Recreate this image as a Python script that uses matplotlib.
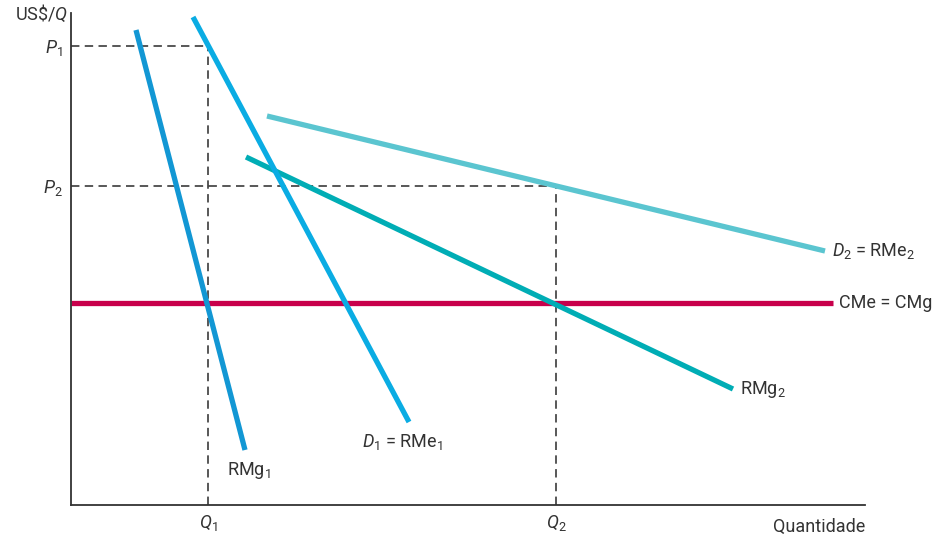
import numpy as np
import matplotlib.pyplot as plt

plt.rcParams['font.family'] = ['Roboto', 'DejaVu Sans']
plt.rcParams['mathtext.fontset'] = 'custom'
plt.rcParams['mathtext.rm'] = 'Roboto'
plt.rcParams['mathtext.it'] = 'Roboto:italic'

# niveaux de référence (unités arbitraires)
q1, q2 = 13.7, 48.5
p1, p2 = 45.9, 31.9
cme = 20.2

# extrémités des courbes (x, y)
rmg1_x = [6.5, 17.4]
rmg1_y = [47.5, 5.5]
d1_x = [12.2, 33.8]
d1_y = [48.8, 8.3]
d2_x = [19.6, 75.4]
d2_y = [38.9, 25.4]
rmg2_x = [17.5, 66.2]
rmg2_y = [34.8, 11.6]
cme_x = [0, 76.2]

fig = plt.figure(figsize=(9.33, 5.35), dpi=100)
ax = fig.add_axes([71 / 933, 30 / 535, 794 / 933, 492 / 535])
ax.set_xlim(0, 79.4)
ax.set_ylim(0, 49.2)

dash = dict(color='#2a2a2a', lw=1.1, ls=(0, (5.5, 3.5)), zorder=1)
ax.plot([0, q1], [p1, p1], **dash)
ax.plot([q1, q1], [0, p1], **dash)
ax.plot([0, q2], [p2, p2], **dash)
ax.plot([q2, q2], [0, p2], **dash)

ax.plot(cme_x, [cme, cme], color='#c8004b', lw=3.8, solid_capstyle='butt', zorder=2)
ax.plot(d2_x, d2_y, color='#5bc5d0', lw=3.8, solid_capstyle='butt', zorder=3)
ax.plot(rmg2_x, rmg2_y, color='#00adb5', lw=3.8, solid_capstyle='butt', zorder=4)
ax.plot(d1_x, d1_y, color='#0aace3', lw=3.8, solid_capstyle='butt', zorder=5)
ax.plot(rmg1_x, rmg1_y, color='#1297d4', lw=3.8, solid_capstyle='butt', zorder=6)

fs = 13
tc = '#333333'
ax.text(rmg1_x[1] - 1.8, rmg1_y[1] - 1.0, 'RMg$_1$', fontsize=fs, color=tc, va='top', ha='left')
ax.text(d1_x[1] - 4.7, d1_y[1] - 1.0, '$D_1$ = RMe$_1$', fontsize=fs, color=tc, va='top', ha='left')
ax.text(d2_x[1] + 0.7, d2_y[1], '$D_2$ = RMe$_2$', fontsize=fs, color=tc, va='center', ha='left')
ax.text(rmg2_x[1] + 0.7, rmg2_y[1], 'RMg$_2$', fontsize=fs, color=tc, va='center', ha='left')
ax.text(cme_x[1] + 0.6, cme, 'CMe = CMg', fontsize=fs, color=tc, va='center', ha='left')

ax.spines['top'].set_visible(False)
ax.spines['right'].set_visible(False)
for s in ['left', 'bottom']:
    ax.spines[s].set_color('#333333')
    ax.spines[s].set_linewidth(1.3)

ax.set_xticks([q1, q2])
ax.set_xticklabels(['$Q_1$', '$Q_2$'], fontsize=fs, color=tc)
ax.set_yticks([p1, p2])
ax.set_yticklabels(['$P_1$', '$P_2$'], fontsize=fs, color=tc)
ax.tick_params(length=0, pad=6)

ax.text(-0.3, 49.2, 'US\\$/$Q$', fontsize=fs, color=tc, ha='right', va='center')
ax.text(79.4, -1.3, 'Quantidade', fontsize=fs, color=tc, ha='right', va='top')

plt.savefig('out.png', dpi=100)
